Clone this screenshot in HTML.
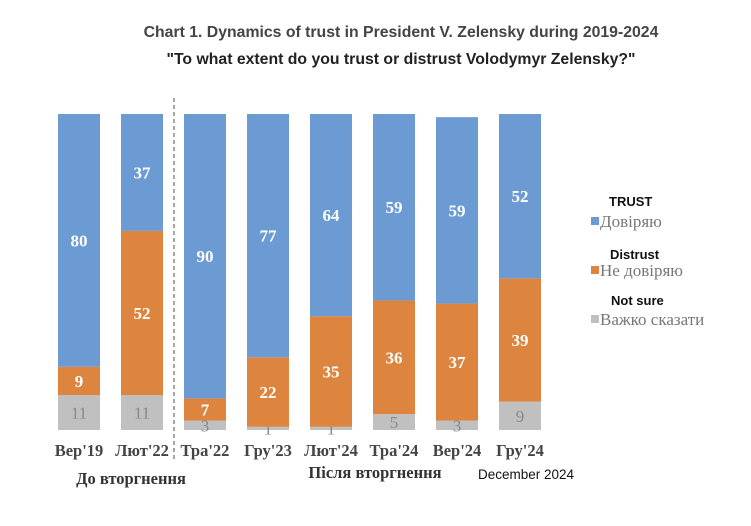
<!DOCTYPE html>
<html><head><meta charset="utf-8"><style>
body{margin:0;background:#fff;width:751px;height:526px;overflow:hidden}
svg{display:block}
</style></head><body>
<svg id="chart" width="751" height="526" xmlns="http://www.w3.org/2000/svg">
<text x="401" y="37" text-anchor="middle" font-family="Liberation Sans, sans-serif" font-weight="bold" font-size="15.8" fill="#444">Chart 1. Dynamics of trust in President V. Zelensky during 2019-2024</text>
<text x="401" y="64" text-anchor="middle" font-family="Liberation Sans, sans-serif" font-weight="bold" font-size="15.8" fill="#222">"To what extent do you trust or distrust Volodymyr Zelensky?"</text>
<g id="bars"></g>
<line x1="174" y1="98" x2="174" y2="462" stroke="#888" stroke-width="1.5" stroke-dasharray="4,3"/>
<text x="131" y="484" text-anchor="middle" font-family="Liberation Serif, serif" font-weight="bold" font-size="16.5" fill="#333">До вторгнення</text>
<text x="375" y="478" text-anchor="middle" font-family="Liberation Serif, serif" font-weight="bold" font-size="16.5" fill="#333">Після вторгнення</text>
<text x="526" y="479" text-anchor="middle" font-family="Liberation Sans, sans-serif" font-size="13.5" fill="#111">December 2024</text>
<g font-family="Liberation Sans, sans-serif">
<text x="609" y="206" font-size="13" font-weight="bold" fill="#111">TRUST</text>
<rect x="591" y="217" width="8" height="8" fill="#6b9bd2"/>
<text x="600" y="227" font-family="Liberation Serif, serif" font-size="17" fill="#777">Довіряю</text>
<text x="610" y="259" font-size="13" font-weight="bold" fill="#111">Distrust</text>
<rect x="591" y="266" width="8" height="8" fill="#dd843f"/>
<text x="600" y="276" font-family="Liberation Serif, serif" font-size="17" fill="#777">Не довіряю</text>
<text x="611" y="305" font-size="13" font-weight="bold" fill="#111">Not sure</text>
<rect x="591" y="315" width="8" height="8" fill="#c0c0c0"/>
<text x="600" y="325" font-family="Liberation Serif, serif" font-size="17" fill="#777">Важко сказати</text>
</g>
</svg>
<script>
const categories=["Вер'19","Лют'22","Тра'22","Гру'23","Лют'24","Тра'24","Вер'24","Гру'24"];
const trust=[80,37,90,77,64,59,59,52];
const distrust=[9,52,7,22,35,36,37,39];
const notSure=[11,11,3,1,1,5,3,9];
const NS="http://www.w3.org/2000/svg";
const g=document.getElementById('bars');
const x0=58,step=63,bw=42,base=430,top0=114;
const scaleY=v=>v*(base-top0)/100;
function el(t,a){const e=document.createElementNS(NS,t);for(const k in a)e.setAttribute(k,a[k]);g.appendChild(e);return e;}
categories.forEach((c,i)=>{
  const x=x0+i*step;
  const segs=[[notSure[i],'#c0c0c0','#888','notsure',false],[distrust[i],'#dd843f','#fff','distrust',true],[trust[i],'#6b9bd2','#fff','trust',true]];
  let y=base;
  segs.forEach(s=>{
    const h=scaleY(s[0]);y-=h;
    const r=el('rect',{x:x,y:y,width:bw,height:h,fill:s[1]});
    
    
    const t=el('text',{x:x+bw/2,y:y+h/2+6,'text-anchor':'middle','font-family':'Liberation Serif, serif','font-size':'17','font-weight':s[4]?'bold':'normal',fill:s[2]});
    t.textContent=s[0];
    
    
  });
  const l=el('text',{x:x+bw/2,y:456,'text-anchor':'middle','font-family':'Liberation Serif, serif','font-size':'16.5','font-weight':'bold',fill:'#444'});
  l.textContent=c;
  
  
});
</script>
</body></html>
